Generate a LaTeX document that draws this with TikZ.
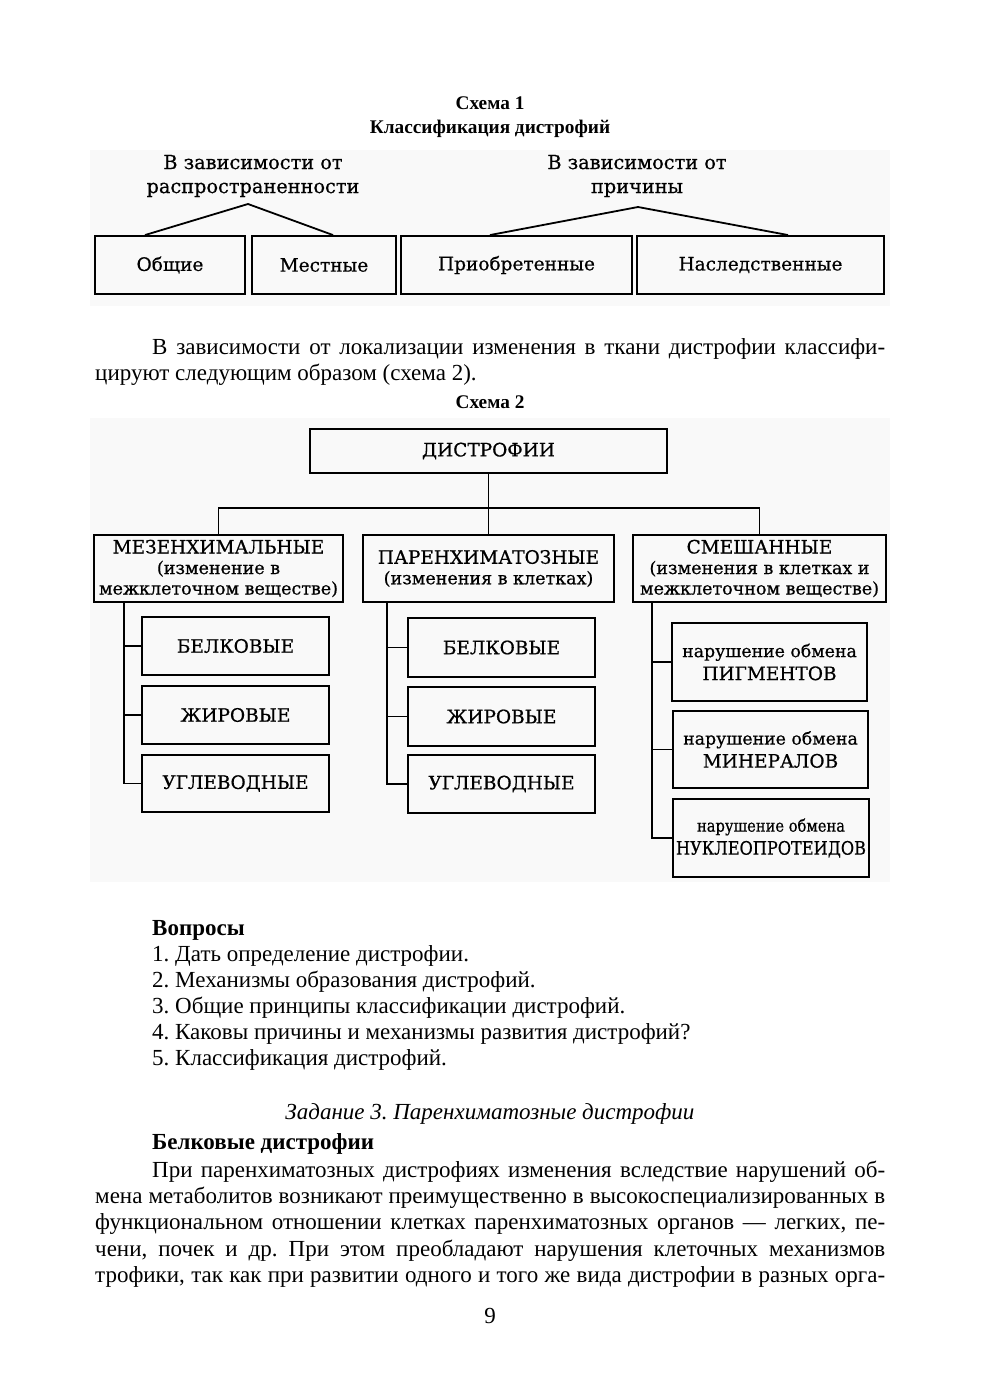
\documentclass[tikz,border=0pt]{standalone}
\usepackage{fontspec}
\usepackage{graphicx}
\setmainfont{Liberation Serif}
\newfontfamily\djf[FakeBold=0.6]{DejaVu Serif}
\frenchspacing
\tikzset{
  box/.style={draw, line width=1.9pt, inner sep=0pt, align=center, font=\djf\fontsize{18.5}{23}\selectfont},
  hbox/.style={box, minimum height=67pt, font=\djf\fontsize{17.5}{20.5}\selectfont},
  conn/.style={line width=1.8pt},
  lbl/.style={inner sep=0pt, align=center, font=\djf\fontsize{19.3}{24}\selectfont},
  body/.style={inner sep=0pt, anchor=base west, font=\fontsize{23}{26}\selectfont},
  ttl/.style={inner sep=0pt, anchor=base, font=\bfseries\fontsize{19.3}{22}\selectfont},
}
\newcommand\bx[6]{\node[box, minimum width={#4-#2}, minimum height={#5-#3}] (#1) at ({(#2+#4)/2},{(#3+#5)/2}) {#6};}
\begin{document}
\begin{tikzpicture}[x=1pt,y=-1pt]
\useasboundingbox[fill=white] (0,0) rectangle (980,1386);
% faint scan backgrounds
\fill[black!2.5] (90,150) rectangle (890,306);
\fill[black!2.5] (90,418) rectangle (890,882);

% ---------- Scheme 1 ----------
\node[ttl] (t1) at (490,110) {Схема 1};
\node[ttl] (t1b) at (490,134) {Классификация дистрофий};

\node[lbl] (l1) at (253,176) {В зависимости от\\распространенности};
\node[lbl] (l2) at (637,176) {В зависимости от\\причины};

\bx{ob}{95}{236}{245}{294}{Общие}
\bx{me}{252}{236}{396}{294}{Местные}
\bx{pr}{401}{236}{632}{294}{Приобретенные}
\bx{na}{637}{236}{884}{294}{Наследственные}

\coordinate (a1) at (248,204);
\coordinate (a2) at (638,207);
\draw[conn] ([xshift=-25pt]ob.north) -- (a1) -- ([xshift=9pt]me.north);
\draw[conn] ([xshift=-26.5pt]pr.north) -- (a2) -- ([xshift=27.5pt]na.north);

% ---------- paragraph ----------
\node[body] (p1) at (152,354) {\makebox[733pt][s]{В зависимости от локализации изменения в ткани дистрофии классифи-}};
\node[body] (p2) at (95,380) {цируют следующим образом (схема 2).};
\node[ttl] (t2) at (490,408) {Схема 2};

% ---------- Scheme 2 ----------
\bx{di}{310}{429}{667}{473}{ДИСТРОФИИ}
\node[hbox, minimum width=249pt] (mz) at (218.5,568.5)
  {{\fontsize{18.5}{20.5}\selectfont МЕЗЕНХИМАЛЬНЫЕ}\\(изменение в\\межклеточном веществе)};
\node[hbox, minimum width=251pt] (pa) at (488.5,568.5)
  {{\fontsize{18.5}{20.5}\selectfont ПАРЕНХИМАТОЗНЫЕ}\\(изменения в клетках)};
\node[hbox, minimum width=253pt] (sm) at (759.5,568.5)
  {{\fontsize{18.5}{20.5}\selectfont СМЕШАННЫЕ}\\(изменения в клетках и\\межклеточном веществе)};

\coordinate (hb) at (488.5,508);
\draw[conn] (di.south) -- (hb);
\draw[conn] (mz.north) |- (hb) -| (sm.north);
\draw[conn] (hb) -- (pa.north);

% mesenchymal column
\bx{b1}{142}{617}{329}{675}{БЕЛКОВЫЕ}
\bx{b2}{142}{686}{329}{744}{ЖИРОВЫЕ}
\bx{b3}{142}{755}{329}{812}{УГЛЕВОДНЫЕ}
\coordinate (s1) at (124,602);
\draw[conn] (s1) |- (b3.west);
\draw[conn] (b1.west) -- (b1.west -| s1);
\draw[conn] (b2.west) -- (b2.west -| s1);

% parenchymal column
\bx{c1}{408}{618}{595}{677}{БЕЛКОВЫЕ}
\bx{c2}{408}{687}{595}{746}{ЖИРОВЫЕ}
\bx{c3}{408}{755}{595}{813}{УГЛЕВОДНЫЕ}
\coordinate (s2) at (387,602);
\draw[conn] (s2) |- (c3.west);
\draw[conn] (c1.west) -- (c1.west -| s2);
\draw[conn] (c2.west) -- (c2.west -| s2);

% mixed column
\bx{m1}{672}{623}{867}{701}{{\fontsize{17.3}{21}\selectfont нарушение обмена}\\ПИГМЕНТОВ}
\bx{m2}{673}{711}{868}{788}{{\fontsize{17.3}{21}\selectfont нарушение обмена}\\МИНЕРАЛОВ}
\bx{m3}{673}{799}{869}{877}{\resizebox{148pt}{\height}{\fontsize{17}{21}\selectfont нарушение обмена}\\\resizebox{190pt}{\height}{НУКЛЕОПРОТЕИДОВ}}
\coordinate (s3) at (652,602);
\draw[conn] (s3) |- (m3.west);
\draw[conn] (m1.west) -- (m1.west -| s3);
\draw[conn] (m2.west) -- (m2.west -| s3);

% ---------- questions ----------
\node[body, font=\bfseries\fontsize{23}{26}\selectfont] (q0) at (152,935) {Вопросы};
\node[body] (q1) at (152,961) {1. Дать определение дистрофии.};
\node[body] (q2) at (152,987) {2. Механизмы образования дистрофий.};
\node[body] (q3) at (152,1013) {3. Общие принципы классификации дистрофий.};
\node[body] (q4) at (152,1039) {4. Каковы причины и механизмы развития дистрофий?};
\node[body] (q5) at (152,1065) {5. Классификация дистрофий.};

% ---------- task 3 ----------
\node[inner sep=0pt, anchor=base, font=\itshape\fontsize{23}{26}\selectfont] (z3) at (490,1119) {Задание 3. Паренхиматозные дистрофии};
\node[body, font=\bfseries\fontsize{23}{26}\selectfont] (bd) at (152,1149) {Белковые дистрофии};
\node[body] (r1) at (152,1177) {\makebox[733pt][s]{При паренхиматозных дистрофиях изменения вследствие нарушений об-}};
\node[body] (r2) at (95,1203) {\makebox[790pt][s]{мена метаболитов возникают преимущественно в высокоспециализированных в}};
\node[body] (r3) at (95,1229) {\makebox[790pt][s]{функциональном отношении клетках паренхиматозных органов — легких, пе-}};
\node[body] (r4) at (95,1256) {\makebox[790pt][s]{чени, почек и др. При этом преобладают нарушения клеточных механизмов}};
\node[body] (r5) at (95,1282) {\makebox[790pt][s]{трофики, так как при развитии одного и того же вида дистрофии в разных орга-}};

\node[inner sep=0pt, anchor=base, font=\fontsize{23}{26}\selectfont] (pg) at (490,1323) {9};
\end{tikzpicture}
\end{document}
